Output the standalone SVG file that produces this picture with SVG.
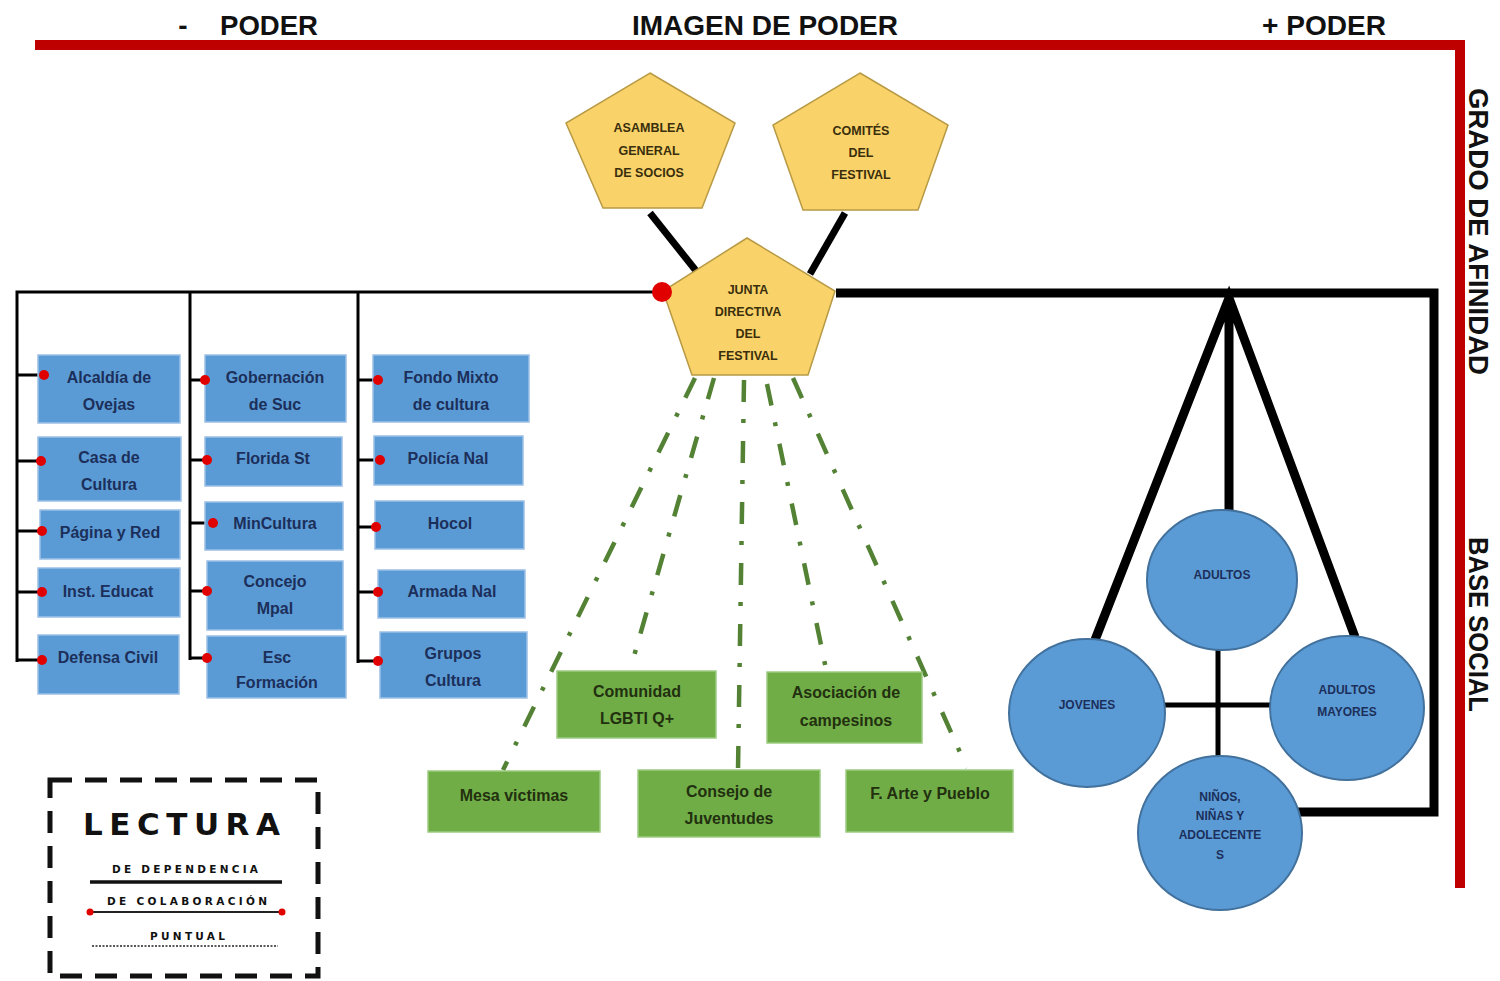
<svg xmlns="http://www.w3.org/2000/svg" width="1500" height="981" viewBox="0 0 1500 981">
<style>
.title{font-family:"Liberation Sans",Arial,sans-serif;font-weight:bold;font-size:28px;fill:#111}
.box{fill:#5B9BD5;stroke:#9cc0e6;stroke-width:1.5}
.gbox{fill:#70AD47;stroke:#9ccc80;stroke-width:1.5}
.pent{fill:#F9D36A;stroke:#b89a45;stroke-width:1.5}
.circ{fill:#5B9BD5;stroke:#41719C;stroke-width:2}
.bt{font-family:"Liberation Sans",Arial,sans-serif;font-weight:bold;font-size:16px;fill:#1C2F5A;text-anchor:middle;dominant-baseline:central}
.gt{font-family:"Liberation Sans",Arial,sans-serif;font-weight:bold;font-size:16px;fill:#22300F;text-anchor:middle;dominant-baseline:central}
.pt{font-family:"Liberation Sans",Arial,sans-serif;font-weight:bold;font-size:12.5px;fill:#3A2E0C;text-anchor:middle;dominant-baseline:central}
.ct{font-family:"Liberation Sans",Arial,sans-serif;font-weight:bold;font-size:12px;fill:#1C2F5A;text-anchor:middle;dominant-baseline:central}
.thin{stroke:#000;stroke-width:3;fill:none}
.thick{stroke:#000;stroke-width:9;fill:none}
.gdash{stroke:#548235;stroke-width:4.5;fill:none;stroke-dasharray:22 17 4 18}
.rdot{fill:#E00000}
.lg{font-family:"DejaVu Sans","Liberation Sans",sans-serif;font-weight:bold;fill:#111}
</style>

<!-- red frame -->
<g id="frame">
<path d="M35,45 H1460 V888" fill="none" stroke="#BF0000" stroke-width="10"/>
<text class="title" x="183" y="35" text-anchor="middle">-</text>
<text class="title" x="220" y="35" textLength="98" lengthAdjust="spacingAndGlyphs">PODER</text>
<text class="title" x="632" y="35" textLength="266" lengthAdjust="spacingAndGlyphs">IMAGEN DE PODER</text>
<text class="title" x="1262" y="35" textLength="124" lengthAdjust="spacingAndGlyphs">+ PODER</text>
<text class="title" transform="translate(1469,88) rotate(90)" x="0" y="0" font-size="27" textLength="287" lengthAdjust="spacingAndGlyphs">GRADO DE AFINIDAD</text>
<text class="title" transform="translate(1469,537) rotate(90)" x="0" y="0" font-size="27" textLength="175" lengthAdjust="spacingAndGlyphs">BASE SOCIAL</text>
</g>

<!-- connectors -->
<g id="connectors">
<line x1="650" y1="213" x2="697" y2="272" stroke="#000" stroke-width="7"/>
<line x1="845" y1="213" x2="810" y2="274" stroke="#000" stroke-width="7"/>
<path class="thin" d="M662,292 H17 V662 M190,292 V660 M358,292 V663"/>
<path class="thin" d="M17,375 H44 M17,461 H41 M17,531 H42 M17,592 H42 M17,660 H42"/>
<path class="thin" d="M190,380 H205 M190,460 H207 M190,523 H213 M190,591 H207 M190,658 H207"/>
<path class="thin" d="M358,380 H378 M358,460 H380 M358,527 H376 M358,592 H378 M358,661 H378"/>
<line class="gdash" x1="695" y1="378" x2="503" y2="770"/>
<line class="gdash" x1="714" y1="378" x2="630" y2="670"/>
<line class="gdash" x1="744" y1="380" x2="738" y2="770"/>
<line class="gdash" x1="767" y1="384" x2="826" y2="669"/>
<line class="gdash" x1="793" y1="378" x2="967" y2="768"/>
<path class="thick" d="M836,293 H1434 V812 H1298"/>
<path class="thick" d="M1095,640 L1229,298 L1355,637 M1229,298 V512"/>
<path d="M1165,705 H1270 M1218,650 V758" stroke="#000" stroke-width="5" fill="none"/>
</g>

<!-- pentagons -->
<g id="asamblea">
<polygon class="pent" points="650,73 735,123 702,208 603,208 566,123"/>
<text class="pt" x="649" y="128">ASAMBLEA</text>
<text class="pt" x="649" y="151">GENERAL</text>
<text class="pt" x="649" y="173">DE SOCIOS</text>
</g>
<g id="comites">
<polygon class="pent" points="860,73 948,125 918,210 803,210 773,125"/>
<text class="pt" x="861" y="131">COMITÉS</text>
<text class="pt" x="861" y="153">DEL</text>
<text class="pt" x="861" y="175">FESTIVAL</text>
</g>
<g id="junta">
<polygon class="pent" points="747,238 835,291 808,375 692,375 663,291"/>
<text class="pt" x="748" y="290">JUNTA</text>
<text class="pt" x="748" y="312">DIRECTIVA</text>
<text class="pt" x="748" y="334">DEL</text>
<text class="pt" x="748" y="356">FESTIVAL</text>
</g>

<!-- column 1 -->
<g id="alcaldia"><rect class="box" x="38" y="355" width="142" height="68"/><text class="bt" x="109" y="377">Alcaldía de</text><text class="bt" x="109" y="404">Ovejas</text></g>
<g id="casa"><rect class="box" x="38" y="437" width="143" height="64"/><text class="bt" x="109" y="457">Casa de</text><text class="bt" x="109" y="484">Cultura</text></g>
<g id="pagina"><rect class="box" x="40" y="510" width="140" height="49"/><text class="bt" x="110" y="532">Página y Red</text></g>
<g id="inst"><rect class="box" x="38" y="568" width="142" height="49"/><text class="bt" x="108" y="591">Inst. Educat</text></g>
<g id="defensa"><rect class="box" x="38" y="635" width="141" height="59"/><text class="bt" x="108" y="657">Defensa Civil</text></g>

<!-- column 2 -->
<g id="gobernacion"><rect class="box" x="205" y="355" width="141" height="67"/><text class="bt" x="275" y="377">Gobernación</text><text class="bt" x="275" y="404">de Suc</text></g>
<g id="florida"><rect class="box" x="205" y="437" width="137" height="49"/><text class="bt" x="273" y="458">Florida St</text></g>
<g id="mincultura"><rect class="box" x="205" y="502" width="138" height="48"/><text class="bt" x="275" y="523">MinCultura</text></g>
<g id="concejo"><rect class="box" x="207" y="561" width="136" height="69"/><text class="bt" x="275" y="581">Concejo</text><text class="bt" x="275" y="608">Mpal</text></g>
<g id="esc"><rect class="box" x="207" y="636" width="139" height="62"/><text class="bt" x="277" y="657">Esc</text><text class="bt" x="277" y="682">Formación</text></g>

<!-- column 3 -->
<g id="fondo"><rect class="box" x="373" y="355" width="156" height="67"/><text class="bt" x="451" y="377">Fondo Mixto</text><text class="bt" x="451" y="404">de cultura</text></g>
<g id="policia"><rect class="box" x="374" y="436" width="149" height="49"/><text class="bt" x="448" y="458">Policía Nal</text></g>
<g id="hocol"><rect class="box" x="375" y="501" width="149" height="48"/><text class="bt" x="450" y="523">Hocol</text></g>
<g id="armada"><rect class="box" x="378" y="570" width="147" height="48"/><text class="bt" x="452" y="591">Armada Nal</text></g>
<g id="grupos"><rect class="box" x="380" y="632" width="147" height="66"/><text class="bt" x="453" y="653">Grupos</text><text class="bt" x="453" y="680">Cultura</text></g>

<!-- connection dots (on top of boxes) -->
<g id="dots" class="rdot">
<circle cx="662" cy="292" r="10"/>
<circle cx="44" cy="375" r="5"/><circle cx="41" cy="461" r="5"/><circle cx="42" cy="531" r="5"/><circle cx="42" cy="592" r="5"/><circle cx="42" cy="660" r="5"/>
<circle cx="205" cy="380" r="5"/><circle cx="207" cy="460" r="5"/><circle cx="213" cy="523" r="5"/><circle cx="207" cy="591" r="5"/><circle cx="207" cy="658" r="5"/>
<circle cx="378" cy="380" r="5"/><circle cx="380" cy="460" r="5"/><circle cx="376" cy="527" r="5"/><circle cx="378" cy="592" r="5"/><circle cx="378" cy="661" r="5"/>
</g>

<!-- green -->
<g id="lgbti"><rect class="gbox" x="557" y="671" width="159" height="67"/><text class="gt" x="637" y="691">Comunidad</text><text class="gt" x="637" y="718">LGBTI Q+</text></g>
<g id="asociacion"><rect class="gbox" x="767" y="672" width="155" height="71"/><text class="gt" x="846" y="692">Asociación de</text><text class="gt" x="846" y="720">campesinos</text></g>
<g id="mesa"><rect class="gbox" x="428" y="771" width="172" height="61"/><text class="gt" x="514" y="795">Mesa victimas</text></g>
<g id="consejo"><rect class="gbox" x="638" y="770" width="182" height="67"/><text class="gt" x="729" y="791">Consejo de</text><text class="gt" x="729" y="818">Juventudes</text></g>
<g id="arte"><rect class="gbox" x="846" y="770" width="167" height="62"/><text class="gt" x="930" y="793">F. Arte y Pueblo</text></g>

<!-- circles -->
<g id="adultos"><ellipse class="circ" cx="1222" cy="580" rx="75" ry="70"/><text class="ct" x="1222" y="575">ADULTOS</text></g>
<g id="jovenes"><ellipse class="circ" cx="1087" cy="713" rx="78" ry="74"/><text class="ct" x="1087" y="705">JOVENES</text></g>
<g id="mayores"><ellipse class="circ" cx="1347" cy="708" rx="77" ry="72"/><text class="ct" x="1347" y="690">ADULTOS</text><text class="ct" x="1347" y="712">MAYORES</text></g>
<g id="ninos"><ellipse class="circ" cx="1220" cy="833" rx="82" ry="77"/><text class="ct" x="1220" y="797">NIÑOS,</text><text class="ct" x="1220" y="816">NIÑAS Y</text><text class="ct" x="1220" y="835">ADOLECENTE</text><text class="ct" x="1220" y="855">S</text></g>

<!-- legend -->
<g id="legend">
<rect x="50" y="780" width="268" height="196" fill="none" stroke="#111" stroke-width="5" stroke-dasharray="22 13"/>
<text class="lg" x="83" y="835" font-size="31" textLength="197" lengthAdjust="spacing">LECTURA</text>
<text class="lg" x="112" y="873" font-size="10.5" textLength="146" lengthAdjust="spacing">DE DEPENDENCIA</text>
<line x1="90" y1="882" x2="282" y2="882" stroke="#111" stroke-width="3.5"/>
<text class="lg" x="107" y="905" font-size="10.5" textLength="160" lengthAdjust="spacing">DE COLABORACIÓN</text>
<line x1="90" y1="912" x2="282" y2="912" stroke="#222" stroke-width="2"/>
<circle class="rdot" cx="90" cy="912" r="3.5"/><circle class="rdot" cx="282" cy="912" r="3.5"/>
<text class="lg" x="150" y="940" font-size="10.5" textLength="75" lengthAdjust="spacing">PUNTUAL</text>
<line x1="92" y1="946" x2="278" y2="946" stroke="#222" stroke-width="1.5" stroke-dasharray="2 1.5"/>
</g>
</svg>
